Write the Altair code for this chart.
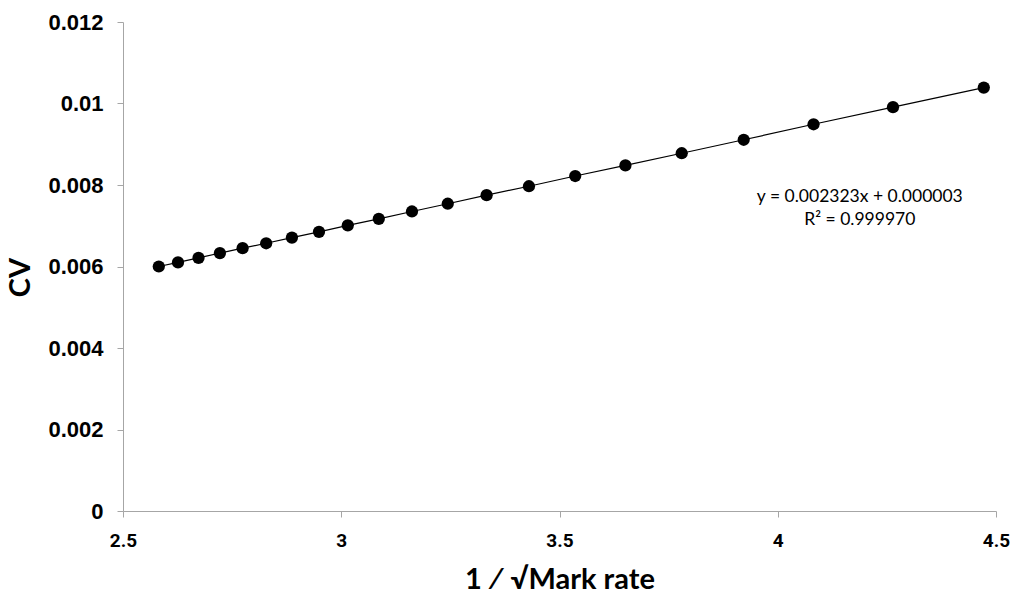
import altair as alt
import pandas as pd

# 1/sqrt(mark rate) values
x_vals = [2.582, 2.626, 2.673, 2.722, 2.774, 2.828, 2.887, 2.949, 3.015, 3.086,
          3.162, 3.244, 3.333, 3.430, 3.536, 3.651, 3.780, 3.922, 4.082, 4.264, 4.472]
# CV values
cv_vals = [0.00600, 0.00610, 0.00621, 0.00633, 0.00645, 0.00657, 0.00671, 0.00685,
           0.00701, 0.00717, 0.00735, 0.00754, 0.00775, 0.00797, 0.00822, 0.00848,
           0.00878, 0.00911, 0.00949, 0.00991, 0.01039]

eq_lines = ["y = 0.002323x + 0.000003", "R\u00b2 = 0.999970"]
eq_x = [4.188, 4.188]
eq_y = [0.00771, 0.00715]

df = pd.DataFrame({"x": x_vals, "cv": cv_vals})
ann = pd.DataFrame({"x": eq_x, "y": eq_y, "t": eq_lines})

x_scale = alt.Scale(domain=[2.5, 4.5], nice=False, zero=False)
y_scale = alt.Scale(domain=[0, 0.012], nice=False)

x_axis = alt.Axis(
    title="1 \u2215 \u221aMark rate", values=[2.5, 3, 3.5, 4, 4.5], format="~g",
    grid=False, domainColor="#a6a6a6", tickColor="#a6a6a6", tickSize=6,
    labelFont="Roboto", labelFontSize=19, labelFontWeight="bold", labelColor="black",
    labelPadding=14, labelFlush=False, labelOverlap=False,
    titleFont="Lato", titleFontSize=29, titleFontWeight="bold",
    titleColor="black", titlePadding=15,
)
y_axis = alt.Axis(
    title="CV", values=[0, 0.002, 0.004, 0.006, 0.008, 0.01, 0.012], format="~g",
    grid=False, domainColor="#a6a6a6", tickColor="#a6a6a6", tickSize=6,
    labelFont="Liberation Sans", labelFontSize=22, labelFontWeight="bold",
    labelColor="black", labelPadding=14, labelFlush=False, labelOverlap=False,
    titleFont="Lato", titleFontSize=29,
    titleFontWeight="bold", titleColor="black", titlePadding=12, titleY=255,
)

base = alt.Chart(df)
line = base.mark_line(color="black", strokeWidth=1.2).encode(
    x=alt.X("x:Q", scale=x_scale, axis=x_axis),
    y=alt.Y("cv:Q", scale=y_scale, axis=y_axis),
)
pts = base.mark_circle(color="black", opacity=1, size=150).encode(
    x=alt.X("x:Q", scale=x_scale),
    y=alt.Y("cv:Q", scale=y_scale),
)
txt = alt.Chart(ann).mark_text(font="Lato", fontSize=17.5, color="black", align="center").encode(
    x=alt.X("x:Q", scale=x_scale),
    y=alt.Y("y:Q", scale=y_scale),
    text="t:N",
)

chart = (line + pts + txt).properties(
    width=873, height=489,
    autosize=alt.AutoSizeParams(type="none"),
    padding={"left": 123, "top": 22, "right": 19, "bottom": 87},
    background="white",
).configure_view(stroke=None)

chart.save("out.html", embed_options={"renderer": "svg", "actions": False})
